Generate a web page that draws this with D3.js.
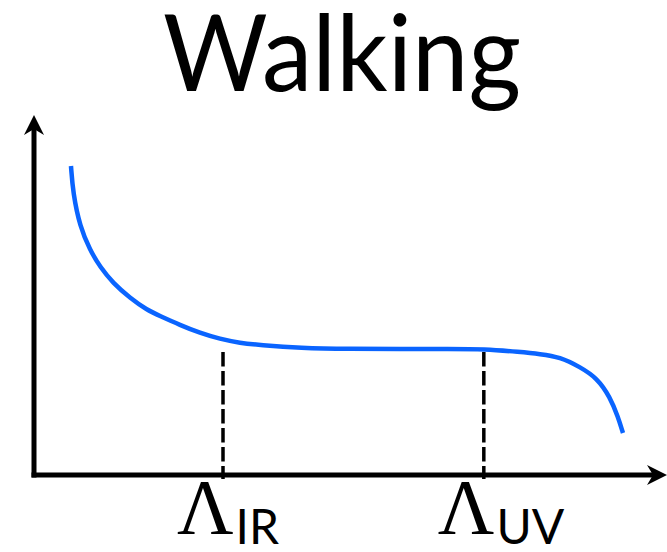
<!DOCTYPE html>
<html>
<head>
<meta charset="utf-8">
<script src="https://cdn.jsdelivr.net/npm/d3@7"></script>
<style>
  body { margin: 0; background: #fff; }
  svg { display: block; }
</style>
</head>
<body>
<div id="chart"></div>
<script>
const width = 667
const height = 552

// curve (arbitrary units, 0-100 on both axes)
const curveX = [5.87, 6.19, 7.30, 8.89, 10.48, 12.54, 15.24, 17.94, 20.0, 23.17, 26.35, 29.52, 32.70, 35.87, 42.22, 50.16, 58.10, 66.03, 71.43, 77.14, 80.32, 83.49, 86.67, 89.37, 91.43, 92.70, 93.49]
const curveY = [85.83, 78.33, 68.89, 62.5, 57.78, 53.33, 49.17, 45.83, 44.17, 41.67, 39.44, 37.78, 36.67, 36.11, 35.28, 35.0, 35.0, 35.0, 35.0, 34.17, 33.61, 32.78, 30.0, 26.94, 21.67, 16.11, 11.67]

// cut-offs
const cutNames = ["Λ", "Λ"]
const cutSubs = ["IR", "UV"]
const cutX = [30.0, 71.4]
const cutTop = 34.2

const title = "Walking"

const svg = d3.select("div#chart")
  .append("svg")
  .attr("width", width)
  .attr("height", height)

const x = d3.scaleLinear().domain([0, 100]).range([34, 664])
const y = d3.scaleLinear().domain([0, 100]).range([475, 115])

// arrow head
svg.append("defs").append("marker")
  .attr("id", "arrow")
  .attr("viewBox", "0 -10 20 20")
  .attr("refX", 8)
  .attr("refY", 0)
  .attr("markerWidth", 20)
  .attr("markerHeight", 20)
  .attr("markerUnits", "userSpaceOnUse")
  .attr("orient", "auto")
  .append("path")
  .attr("d", "M0,-10L20,0L0,10L6,0Z")
  .attr("fill", "#000")

// axes
const axisGroup = svg.append("g").attr("id", "axisGroup")

axisGroup.append("line")
  .attr("x1", x(0)).attr("y1", y(0) + 2.5)
  .attr("x2", x(0)).attr("y2", y(100) + 12)
  .attr("stroke", "#000")
  .attr("stroke-width", 5)
  .attr("marker-end", "url(#arrow)")

axisGroup.append("line")
  .attr("x1", x(0) - 2.5).attr("y1", y(0))
  .attr("x2", x(100) - 9).attr("y2", y(0))
  .attr("stroke", "#000")
  .attr("stroke-width", 5)
  .attr("marker-end", "url(#arrow)")

// dashed cut-off lines
svg.append("g").selectAll("line").data(cutX)
  .join("line")
  .attr("x1", d => x(d)).attr("x2", d => x(d))
  .attr("y1", y(cutTop)).attr("y2", y(0) + 4)
  .attr("stroke", "#000")
  .attr("stroke-width", 3.5)
  .attr("stroke-dasharray", "14.5 4.5")

// curve (basis smooths out the reading noise)
const line = d3.line()
  .x(d => x(d[0]))
  .y(d => y(d[1]))
  .curve(d3.curveBasis)

svg.append("path")
  .datum(d3.zip(curveX, curveY))
  .attr("d", line)
  .attr("fill", "none")
  .attr("stroke", "#0a64ff")
  .attr("stroke-width", 4.5)

// labels under the axis
const labels = svg.append("g").selectAll("text").data(cutX)
  .join("text")
  .attr("x", d => x(d) - 46)
  .attr("y", 533)

labels.append("tspan")
  .attr("font-family", "'Liberation Serif', 'DejaVu Serif', serif")
  .attr("font-size", 78)
  .text((d, i) => cutNames[i])

labels.append("tspan")
  .attr("font-family", "Lato, 'Open Sans', sans-serif")
  .attr("font-size", 48)
  .attr("dy", 11)
  .attr("dx", 2)
  .text((d, i) => cutSubs[i])

// title
svg.append("text")
  .attr("x", 163)
  .attr("y", 91)
  .attr("font-family", "Lato, 'Open Sans', sans-serif")
  .attr("font-size", 106)
  .attr("textLength", 358)
  .attr("lengthAdjust", "spacingAndGlyphs")
  .text(title)
</script>
</body>
</html>
